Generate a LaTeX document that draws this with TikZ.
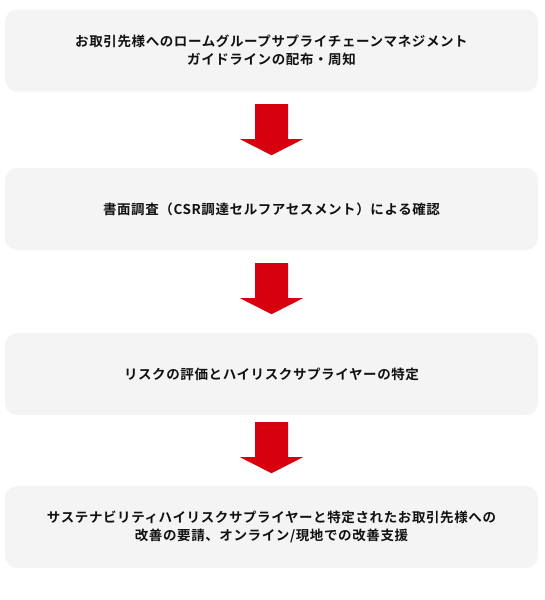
\documentclass[tikz,border=0pt]{standalone}
\usepackage{fontspec}
\newfontfamily\jp{Noto Sans CJK JP}[BoldFont={* Bold},LetterSpace=4.5]
\usetikzlibrary{calc}
\definecolor{boxgray}{HTML}{F4F4F4}
\definecolor{rohmred}{HTML}{D7000F}
\definecolor{txt}{HTML}{111111}
\tikzset{
  stepbox/.style={draw=none, fill=boxgray, rounded corners=12pt,
    minimum width=533pt, minimum height=82pt, inner sep=0pt,
    align=center, text=txt, font=\jp\bfseries\fontsize{13.5}{18.5}\selectfont},
  redarrow/.style={fill=rohmred, draw=none}
}
\newcommand{\downarrowshape}[2]{%
  \fill[redarrow] ($(#1.south)+(-16.5,#2)$) -- ($(#1.south)+(16.5,#2)$)
    -- ($(#1.south)+(16.5,#2+35)$) -- ($(#1.south)+(31.5,#2+35)$)
    -- ($(#1.south)+(0,#2+51)$) -- ($(#1.south)+(-31.5,#2+35)$)
    -- ($(#1.south)+(-16.5,#2+35)$) -- cycle;}
\begin{document}
\begin{tikzpicture}[x=1pt,y=-1pt]
\useasboundingbox (0,0) rectangle (545,600);
\node[stepbox] (b1) at (271.5,50.5) {お取引先様へのロームグループサプライチェーンマネジメント\\ガイドラインの配布・周知};
\node[stepbox] (b2) at (271.5,209) {書面調査（CSR調達セルフアセスメント）による確認};
\node[stepbox] (b3) at (271.5,374) {リスクの評価とハイリスクサプライヤーの特定};
\node[stepbox] (b4) at (271.5,527) {サステナビリティハイリスクサプライヤーと特定されたお取引先様への\\改善の要請、オンライン/現地での改善支援};
\downarrowshape{b1}{12.5}
\downarrowshape{b2}{13}
\downarrowshape{b3}{7}
\end{tikzpicture}
\end{document}
